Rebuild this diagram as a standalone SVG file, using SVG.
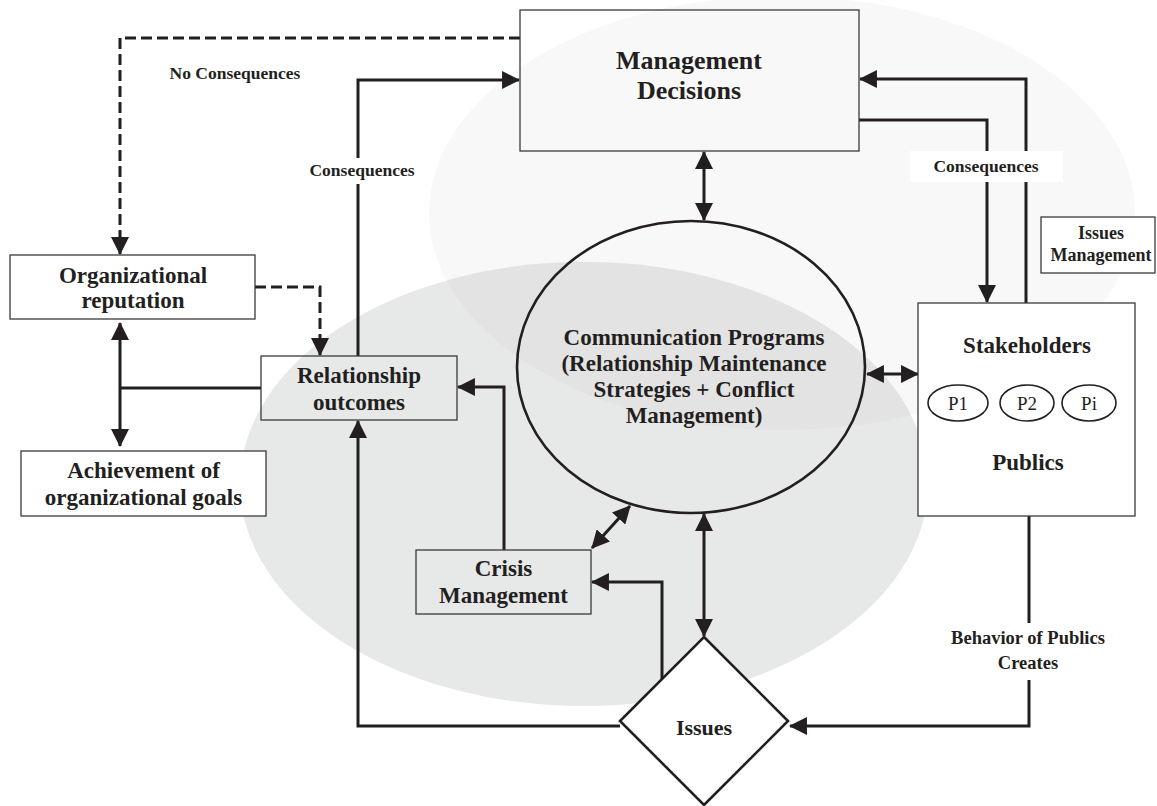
<svg xmlns="http://www.w3.org/2000/svg" width="1157" height="806" viewBox="0 0 1157 806">
<style>
text{font-family:"Liberation Serif","Times New Roman",serif;fill:#231f20;text-anchor:middle}
.b{font-weight:bold;font-size:23px}
.big{font-weight:bold;font-size:26px}
.s{font-weight:bold;font-size:17.5px}
.p{font-size:19px}
.box{stroke:#3a3a3a;stroke-width:1.3}
.ln{fill:none;stroke:#231f20;stroke-width:3}
.d{stroke-dasharray:11 5}
.ae{marker-end:url(#ah)}
.ab{marker-start:url(#ah);marker-end:url(#ah)}
</style>
<defs>
<marker id="ah" markerUnits="userSpaceOnUse" markerWidth="18" markerHeight="18" viewBox="0 0 17 17" refX="16" refY="8.5" orient="auto-start-reverse">
<path d="M0,0 L17,8.5 L0,17 z" fill="#231f20"/>
</marker>
<clipPath id="lowclip"><ellipse cx="584" cy="484" rx="344" ry="222"/></clipPath>
</defs>
<rect width="1157" height="806" fill="#fff"/>
<g id="background">
<ellipse cx="782" cy="213" rx="353" ry="217" fill="#f8f8f8"/>
<ellipse cx="584" cy="484" rx="344" ry="222" fill="#e7e8e8"/>
<ellipse cx="782" cy="213" rx="353" ry="217" fill="#e3e3e3" clip-path="url(#lowclip)"/>
</g>
<g id="connectors">
<path class="ln d ae" d="M520,38 H120 V254"/>
<path class="ln d ae" d="M255,287 H320 V355"/>
<path class="ln ae" d="M358,356 V80 H519"/>
<path class="ln" d="M261,388 H120"/>
<path class="ln ab" d="M120,323 V446"/>
<path class="ln ae" d="M504,550 V387 H458"/>
<path class="ln ae" d="M662,679 V582 H592"/>
<path class="ln ae" d="M620,726 H358 V421"/>
<path class="ln ab" d="M592,548 L630,506"/>
<path class="ln ab" d="M704,514 V636"/>
<path class="ln ab" d="M704,152 V220"/>
<path class="ln ab" d="M867,374 H918"/>
<path class="ln ae" d="M859,120 H987 V302"/>
<path class="ln ae" d="M1026,303 V79 H860"/>
<path class="ln ae" d="M1029,516 V726 H790"/>
<rect x="306" y="158" width="112" height="26" fill="#fff"/>
<text class="s" x="362" y="176">Consequences</text>
<text class="s" x="235" y="79">No Consequences</text>
<rect x="910" y="151" width="153" height="31" fill="#fff"/>
<text class="s" x="986" y="172">Consequences</text>
<rect x="945" y="623" width="168" height="57" fill="#fff"/>
<text class="s" style="font-size:18.5px" x="1028" y="644">Behavior of Publics</text>
<text class="s" style="font-size:18.5px" x="1028" y="669">Creates</text>
</g>
<g id="management-decisions">
<rect class="box" x="520" y="10" width="339" height="141" fill="none"/>
<text class="big" x="689" y="69">Management</text>
<text class="big" x="689" y="99">Decisions</text>
</g>
<g id="organizational-reputation">
<rect class="box" x="10" y="255" width="245" height="64" fill="#fff"/>
<text class="b" x="133" y="283">Organizational</text>
<text class="b" x="133" y="308">reputation</text>
</g>
<g id="relationship-outcomes">
<rect class="box" x="261" y="356" width="196" height="64" fill="none"/>
<text class="b" x="359" y="383">Relationship</text>
<text class="b" x="359" y="410">outcomes</text>
</g>
<g id="achievement">
<rect class="box" x="21" y="451" width="245" height="65" fill="#fff"/>
<text class="b" x="143.5" y="478">Achievement of</text>
<text class="b" x="143.5" y="505">organizational goals</text>
</g>
<g id="crisis-management">
<rect class="box" x="416" y="550" width="175" height="64" fill="none"/>
<text class="b" x="503.5" y="576">Crisis</text>
<text class="b" x="503.5" y="603">Management</text>
</g>
<g id="communication-programs">
<ellipse cx="691" cy="367" rx="174" ry="146" fill="none" stroke="#231f20" stroke-width="2.6"/>
<text class="b" x="694" y="345">Communication Programs</text>
<text class="b" x="694" y="371">(Relationship Maintenance</text>
<text class="b" x="694" y="397">Strategies + Conflict</text>
<text class="b" x="694" y="423">Management)</text>
</g>
<g id="issues-management">
<rect class="box" x="1041" y="217" width="114" height="56" fill="#fff"/>
<text class="s" style="font-size:18px" x="1101" y="239">Issues</text>
<text class="s" style="font-size:18px" x="1101" y="261">Management</text>
</g>
<g id="stakeholders">
<rect class="box" x="918" y="303" width="217" height="213" fill="#fff"/>
<text class="b" x="1027" y="353">Stakeholders</text>
<ellipse cx="958" cy="403" rx="30" ry="18" fill="none" stroke="#231f20" stroke-width="1.6"/>
<ellipse cx="1027" cy="403" rx="27" ry="18" fill="none" stroke="#231f20" stroke-width="1.6"/>
<ellipse cx="1089" cy="403" rx="27" ry="18" fill="none" stroke="#231f20" stroke-width="1.6"/>
<text class="p" x="958" y="410">P1</text>
<text class="p" x="1027" y="410">P2</text>
<text class="p" x="1089" y="410">Pi</text>
<text class="b" x="1028" y="470">Publics</text>
</g>
<g id="issues">
<path d="M704,637 L788,721 L704,805 L620,721 z" fill="#fff" stroke="#231f20" stroke-width="2.6"/>
<text class="b" style="font-size:22px" x="704" y="735">Issues</text>
</g>
</svg>
